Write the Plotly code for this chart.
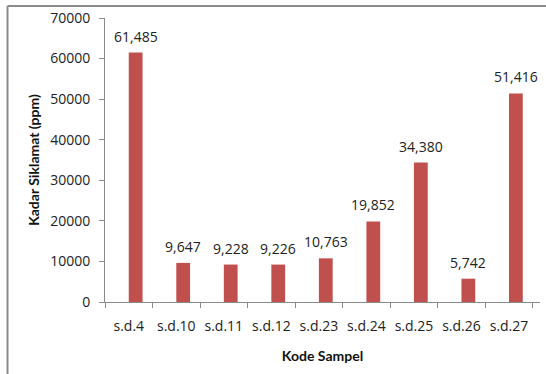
import plotly.graph_objects as go

# Sample codes and measured cyclamate content (ppm)
sampel = ["s.d.4", "s.d.10", "s.d.11", "s.d.12", "s.d.23", "s.d.24", "s.d.25", "s.d.26", "s.d.27"]
kadar = [61485, 9647, 9228, 9226, 10763, 19852, 34380, 5742, 51416]
y_ticks = [0, 10000, 20000, 30000, 40000, 50000, 60000, 70000]

W, H = 546, 374
ML, MR, MT, MB = 105, 6, 18, 72
pw, ph = W - ML - MR, H - MT - MB

axis_col = "#8a8a8a"
bar_col = "#C0504D"
font_fam = "Open Sans, Calibri, sans-serif"
title_fam = "Lato, Calibri, sans-serif"

fig = go.Figure(
    go.Bar(
        x=sampel,
        y=kadar,
        width=0.29,
        offset=0.0,
        marker=dict(color=bar_col, line=dict(width=0)),
        hoverinfo="x+y",
    )
)

# value labels above each bar, written with thousands separators
for s, v in zip(sampel, kadar):
    fig.add_annotation(
        x=s, y=v, text=f"{v:,}", showarrow=False,
        xanchor="center", yanchor="bottom", xshift=7, yshift=5,
        font=dict(family=font_fam, size=14, color="#222222"),
    )

# outer frame lines (left and top)
def px_x(p):
    return (p - ML) / pw

def px_y(p):
    return 1 - (p - MT) / ph

fig.add_shape(type="line", xref="paper", yref="paper",
              x0=px_x(7.5), x1=px_x(W), y0=px_y(6), y1=px_y(6),
              line=dict(color="#8c8c8c", width=2))
fig.add_shape(type="line", xref="paper", yref="paper",
              x0=px_x(7.5), x1=px_x(7.5), y0=px_y(6), y1=px_y(H),
              line=dict(color="#8c8c8c", width=2))

fig.update_layout(
    width=W, height=H,
    margin=dict(l=ML, r=MR, t=MT, b=MB, autoexpand=False),
    paper_bgcolor="white", plot_bgcolor="white",
    showlegend=False,
    font=dict(family=font_fam, size=14, color="#222222"),
    xaxis=dict(
        type="category", automargin=False, tickangle=0,
        showline=True, linecolor=axis_col, linewidth=1,
        ticks="outside", tickson="boundaries", ticklen=5, tickcolor=axis_col,
        showgrid=False, zeroline=False,
        tickfont=dict(family=font_fam, size=14, color="#222222"),
        ticklabelstandoff=11,
        title=dict(text="<b>Kode Sampel</b>", standoff=17,
                   font=dict(family=title_fam, size=14, color="#111111")),
    ),
    yaxis=dict(
        range=[0, 70000], tickvals=y_ticks, tickformat="d", automargin=False,
        showline=True, linecolor=axis_col, linewidth=1,
        ticks="outside", ticklen=5, tickcolor=axis_col,
        showgrid=False, zeroline=False,
        tickfont=dict(family=font_fam, size=14, color="#222222"),
        ticklabelstandoff=6,
        title=dict(text="<b>Kadar Siklamat (ppm)</b>", standoff=7,
                   font=dict(family=title_fam, size=14, color="#111111")),
    ),
)

fig.write_html("out.html")
